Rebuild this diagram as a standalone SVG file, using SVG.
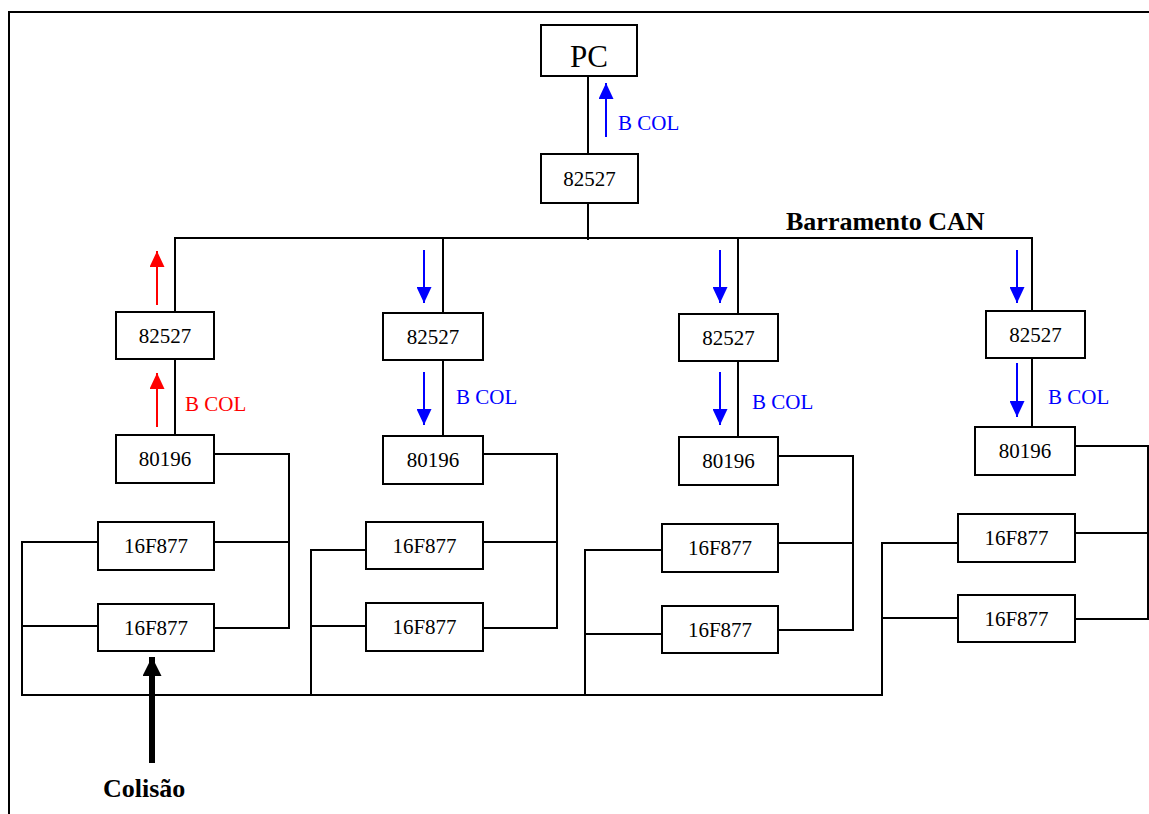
<svg xmlns="http://www.w3.org/2000/svg" width="1149" height="814" viewBox="0 0 1149 814">
<style>
.box{fill:#fff;stroke:#000;stroke-width:2}
.t{font-family:"Liberation Serif","Times New Roman",serif;font-size:21px;fill:#000;text-anchor:middle}
.w{fill:none;stroke:#000;stroke-width:2}
.lb{font-family:"Liberation Serif","Times New Roman",serif;font-size:21px}
.bold{font-family:"Liberation Serif","Times New Roman",serif;font-size:26px;font-weight:bold;fill:#000}
.ab{stroke:#0000FF;stroke-width:2;marker-end:url(#mb)}
.ar{stroke:#FF0000;stroke-width:2;marker-end:url(#mr)}
</style>
<defs>
<marker id="mb" markerUnits="userSpaceOnUse" markerWidth="16" markerHeight="15" refX="16" refY="7.5" orient="auto"><path d="M0,0 L16,7.5 L0,15 z" fill="#0000FF"/></marker>
<marker id="mr" markerUnits="userSpaceOnUse" markerWidth="16" markerHeight="15" refX="16" refY="7.5" orient="auto"><path d="M0,0 L16,7.5 L0,15 z" fill="#FF0000"/></marker>
<marker id="mk" markerUnits="userSpaceOnUse" markerWidth="19" markerHeight="19" refX="19" refY="9.5" orient="auto"><path d="M0,0 L19,9.5 L0,19 z" fill="#000"/></marker>
</defs>
<rect x="0" y="0" width="1149" height="814" fill="#fff"/>
<rect x="9" y="12" width="1150" height="820" fill="none" stroke="#000" stroke-width="2"/>

<g id="connectors">
<line class="w" x1="588" y1="76" x2="588" y2="154"/>
<line class="w" x1="588" y1="203" x2="588" y2="240"/>
<line class="w" x1="174" y1="238" x2="1033" y2="238"/>
<line class="w" x1="175" y1="238" x2="175" y2="312"/>
<line class="w" x1="175" y1="359" x2="175" y2="435"/>
<line class="w" x1="443" y1="238" x2="443" y2="313"/>
<line class="w" x1="443" y1="360" x2="443" y2="436"/>
<line class="w" x1="738" y1="238" x2="738" y2="314"/>
<line class="w" x1="738" y1="361" x2="738" y2="437"/>
<line class="w" x1="1032" y1="238" x2="1032" y2="311"/>
<line class="w" x1="1032" y1="358" x2="1032" y2="427"/>
<polyline class="w" points="214,454 289,454 289,628 214,628"/>
<line class="w" x1="214" y1="542" x2="289" y2="542"/>
<polyline class="w" points="98,542 22,542 22,695"/>
<line class="w" x1="22" y1="626" x2="98" y2="626"/>
<line class="w" x1="21" y1="695" x2="883" y2="695"/>
<polyline class="w" points="483,454 557,454 557,628 483,628"/>
<line class="w" x1="483" y1="542" x2="557" y2="542"/>
<polyline class="w" points="366,550 311,550 311,695"/>
<line class="w" x1="311" y1="626" x2="366" y2="626"/>
<polyline class="w" points="778,456 853,456 853,630 778,630"/>
<line class="w" x1="778" y1="543" x2="853" y2="543"/>
<polyline class="w" points="662,550 585,550 585,695"/>
<line class="w" x1="585" y1="634" x2="662" y2="634"/>
<polyline class="w" points="1075,446 1148,446 1148,619 1075,619"/>
<line class="w" x1="1075" y1="533" x2="1148" y2="533"/>
<polyline class="w" points="958,543 882,543 882,695"/>
<line class="w" x1="882" y1="618" x2="958" y2="618"/>
</g>

<g id="arrows">
<line class="ab" x1="606" y1="137" x2="606" y2="83"/>
<line class="ar" x1="157" y1="305" x2="157" y2="251"/>
<line class="ar" x1="157" y1="427" x2="157" y2="373"/>
<line class="ab" x1="424" y1="250" x2="424" y2="303"/>
<line class="ab" x1="424" y1="372" x2="424" y2="425"/>
<line class="ab" x1="720" y1="250" x2="720" y2="303"/>
<line class="ab" x1="720" y1="372" x2="720" y2="425"/>
<line class="ab" x1="1017" y1="250" x2="1017" y2="303"/>
<line class="ab" x1="1017" y1="363" x2="1017" y2="417"/>
<line x1="152" y1="763" x2="152" y2="657" stroke="#000" stroke-width="6" marker-end="url(#mk)"/>
</g>

<g id="labels">
<text class="lb" x="618" y="130" fill="#0000FF">B COL</text>
<text class="lb" x="185" y="411" fill="#FF0000">B COL</text>
<text class="lb" x="456" y="404" fill="#0000FF">B COL</text>
<text class="lb" x="752" y="409" fill="#0000FF">B COL</text>
<text class="lb" x="1048" y="404" fill="#0000FF">B COL</text>
<text class="bold" x="786" y="230">Barramento CAN</text>
<text class="bold" x="103" y="797">Colisão</text>
</g>

<g id="pc"><rect class="box" x="541" y="25" width="96" height="51"/><text class="t" x="589" y="67" style="font-size:31px">PC</text></g>
<g id="can0"><rect class="box" x="541" y="154" width="97" height="49"/><text class="t" x="589.5" y="186">82527</text></g>

<g id="c1-82527"><rect class="box" x="116" y="312" width="98" height="47"/><text class="t" x="165" y="343">82527</text></g>
<g id="c1-80196"><rect class="box" x="116" y="435" width="98" height="48"/><text class="t" x="165" y="466">80196</text></g>
<g id="c1-pic1"><rect class="box" x="98" y="522" width="116" height="48"/><text class="t" x="156" y="553">16F877</text></g>
<g id="c1-pic2"><rect class="box" x="98" y="604" width="116" height="47"/><text class="t" x="156" y="635">16F877</text></g>

<g id="c2-82527"><rect class="box" x="383" y="313" width="100" height="47"/><text class="t" x="433" y="344">82527</text></g>
<g id="c2-80196"><rect class="box" x="383" y="436" width="100" height="48"/><text class="t" x="433" y="467">80196</text></g>
<g id="c2-pic1"><rect class="box" x="366" y="522" width="117" height="47"/><text class="t" x="424.5" y="553">16F877</text></g>
<g id="c2-pic2"><rect class="box" x="366" y="603" width="117" height="48"/><text class="t" x="424.5" y="634">16F877</text></g>

<g id="c3-82527"><rect class="box" x="679" y="314" width="99" height="47"/><text class="t" x="728.5" y="345">82527</text></g>
<g id="c3-80196"><rect class="box" x="679" y="437" width="99" height="48"/><text class="t" x="728.5" y="468">80196</text></g>
<g id="c3-pic1"><rect class="box" x="662" y="524" width="116" height="48"/><text class="t" x="720" y="555">16F877</text></g>
<g id="c3-pic2"><rect class="box" x="662" y="606" width="116" height="47"/><text class="t" x="720" y="637">16F877</text></g>

<g id="c4-82527"><rect class="box" x="986" y="311" width="99" height="47"/><text class="t" x="1035.5" y="342">82527</text></g>
<g id="c4-80196"><rect class="box" x="975" y="427" width="100" height="48"/><text class="t" x="1025" y="458">80196</text></g>
<g id="c4-pic1"><rect class="box" x="958" y="514" width="117" height="48"/><text class="t" x="1016.5" y="545">16F877</text></g>
<g id="c4-pic2"><rect class="box" x="958" y="595" width="117" height="47"/><text class="t" x="1016.5" y="626">16F877</text></g>
</svg>
